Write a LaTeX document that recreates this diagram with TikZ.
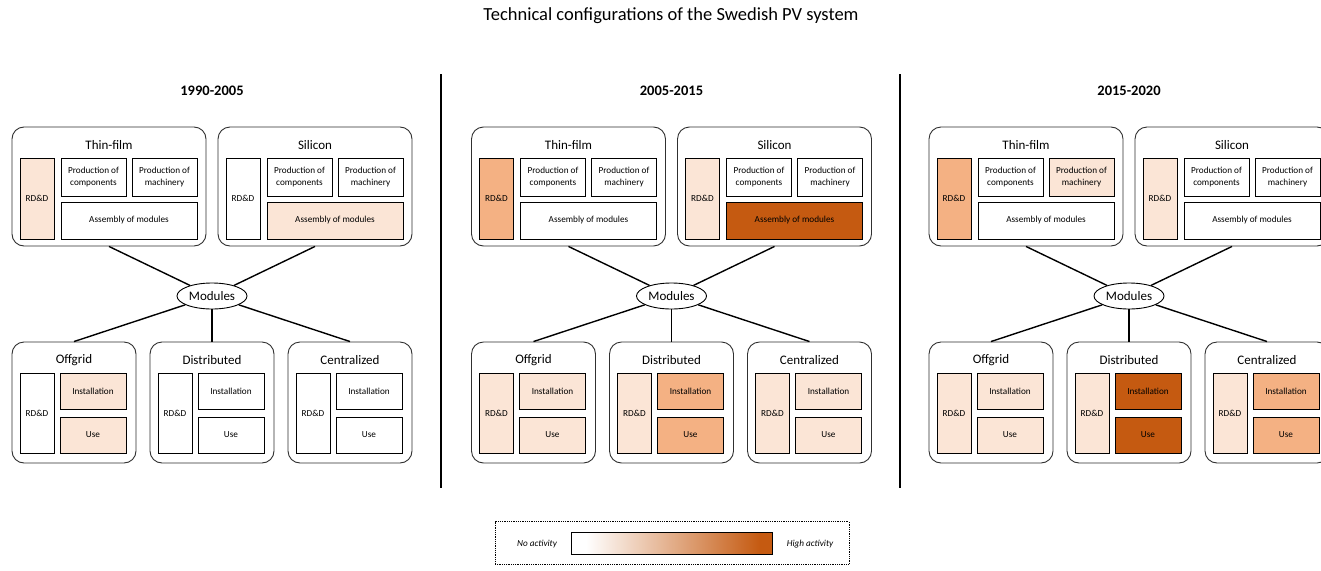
\documentclass[tikz,border=0pt]{standalone}
\usepackage{fontspec}
\setmainfont{Carlito}
\usetikzlibrary{shapes.geometric,calc}
\definecolor{lo}{HTML}{FBE5D6}
\definecolor{mid}{HTML}{F4B183}
\definecolor{hi}{HTML}{C55A11}
\definecolor{frame}{HTML}{303030}
\tikzset{
  outerbox/.style={draw=frame, line width=0.9pt, rounded corners=12pt, fill=white, inner sep=0pt},
  cell/.style={draw=black, line width=0.8pt, inner sep=0pt, align=center, font=\fontsize{9.2}{12}\selectfont},
  ttl/.style={font=\fontsize{13}{15}\selectfont, inner sep=0pt},
  conn/.style={draw=black, line width=1.4pt},
  modnode/.style={ellipse, draw=black, line width=0.9pt, fill=white, minimum width=70pt, minimum height=26pt, inner sep=0pt, font=\fontsize{13}{15}\selectfont},
  yearlbl/.style={font=\bfseries\fontsize{14.5}{17}\selectfont, inner sep=0pt},
  divider/.style={draw=black, line width=1.2pt},
  legbox/.style={draw=black, densely dotted, line width=0.8pt, inner sep=0pt},
  legtxt/.style={font=\itshape\fontsize{9.2}{11}\selectfont, inner sep=0pt}
}
% #1 left x, #2 id, #3 name, #4 RD&D, #5 components, #6 machinery, #7 assembly
\newcommand\techbox[7]{%
  \node[outerbox, minimum width=194pt, minimum height=119pt] (#2) at (#1+97,186.5) {};
  \node[ttl] (#2t) at (#1+97,145) {#3};
  \node[cell, fill=#4, minimum width=34pt, minimum height=81pt] (#2r) at (#1+25,198.5) {RD\&D};
  \node[cell, fill=#5, minimum width=65pt, minimum height=38pt] (#2c) at (#1+81.5,177) {Production of\\components};
  \node[cell, fill=#6, minimum width=65pt, minimum height=38pt] (#2m) at (#1+152.5,177) {Production of\\machinery};
  \node[cell, fill=#7, minimum width=136pt, minimum height=37pt] (#2a) at (#1+117,220.5) {Assembly of modules};
}
% #1 left x, #2 id, #3 name, #4 RD&D, #5 installation, #6 use
\newcommand\appbox[6]{%
  \node[outerbox, minimum width=124pt, minimum height=121pt] (#2) at (#1+62,402.5) {};
  \node[ttl] (#2t) at (#1+62,360) {#3};
  \node[cell, fill=#4, minimum width=34pt, minimum height=80pt] (#2r) at (#1+25,413) {RD\&D};
  \node[cell, fill=#5, minimum width=66pt, minimum height=36pt] (#2i) at (#1+81,391) {Installation};
  \node[cell, fill=#6, minimum width=66pt, minimum height=36pt] (#2u) at (#1+81,435) {Use};
}
\begin{document}
\begin{tikzpicture}[x=1pt,y=-1pt]
\path[use as bounding box] (0,0) rectangle (1321,570);
\clip (0,0) rectangle (1321,570);
\fill[white] (0,0) rectangle (1321,570);

\node[font=\fontsize{18.5}{22}\selectfont, inner sep=0pt] (title) at (671,16) {Technical configurations of the Swedish PV system};

% dividers
\coordinate (d1a) at (441,74); \coordinate (d1b) at (441,488);
\coordinate (d2a) at (900,74); \coordinate (d2b) at (900,488);
\draw[divider] (d1a) -- (d1b);
\draw[divider] (d2a) -- (d2b);

% ---------- Panel 1 ----------
\node[yearlbl] (y1) at (212,91) {1990-2005};
\techbox{12}{tfA}{Thin-film}{lo}{white}{white}{white}
\techbox{218}{siA}{Silicon}{white}{white}{white}{lo}
\appbox{12}{ofA}{Offgrid}{white}{lo}{lo}
\appbox{150}{diA}{Distributed}{white}{white}{white}
\appbox{288}{ceA}{Centralized}{white}{white}{white}
\node[modnode] (mA) at (212,296) {Modules};
\draw[conn] (tfA.south) -- (mA);
\draw[conn] (siA.south) -- (mA);
\draw[conn] (ofA.north) -- (mA);
\draw[conn] (diA.north) -- (mA);
\draw[conn] (ceA.north) -- (mA);

% ---------- Panel 2 ----------
\node[yearlbl] (y2) at (671.5,91) {2005-2015};
\techbox{471.5}{tfB}{Thin-film}{mid}{white}{white}{white}
\techbox{677.5}{siB}{Silicon}{lo}{white}{white}{hi}
\appbox{471.5}{ofB}{Offgrid}{lo}{lo}{lo}
\appbox{609.5}{diB}{Distributed}{lo}{mid}{mid}
\appbox{747.5}{ceB}{Centralized}{lo}{lo}{lo}
\node[modnode] (mB) at (671.5,296) {Modules};
\draw[conn] (tfB.south) -- (mB);
\draw[conn] (siB.south) -- (mB);
\draw[conn] (ofB.north) -- (mB);
\draw[conn] (diB.north) -- (mB);
\draw[conn] (ceB.north) -- (mB);

% ---------- Panel 3 ----------
\node[yearlbl] (y3) at (1129,91) {2015-2020};
\techbox{929}{tfC}{Thin-film}{mid}{white}{lo}{white}
\techbox{1135}{siC}{Silicon}{lo}{white}{white}{white}
\appbox{929}{ofC}{Offgrid}{lo}{lo}{lo}
\appbox{1067}{diC}{Distributed}{lo}{hi}{hi}
\appbox{1205}{ceC}{Centralized}{lo}{mid}{mid}
\node[modnode] (mC) at (1129,296) {Modules};
\draw[conn] (tfC.south) -- (mC);
\draw[conn] (siC.south) -- (mC);
\draw[conn] (ofC.north) -- (mC);
\draw[conn] (diC.north) -- (mC);
\draw[conn] (ceC.north) -- (mC);

% ---------- Legend ----------
\node[legbox, minimum width=354pt, minimum height=43pt] (leg) at (672,543) {};
\node[inner sep=0pt, minimum width=200pt, minimum height=21pt] (bar) at (672,543.5) {};
\fill[white] (bar.south west) rectangle ($(bar.north west)+(14,0)$);
\shade[left color=white, right color=hi] ($(bar.south west)+(14,0)$) rectangle ($(bar.north east)+(-12,0)$);
\fill[hi] ($(bar.south east)+(-12.5,0)$) rectangle (bar.north east);
\draw[black, line width=0.8pt] (bar.south west) rectangle (bar.north east);
\node[legtxt] (noact) at (537,544) {No activity};
\node[legtxt] (hiact) at (810,544) {High activity};
\end{tikzpicture}
\end{document}
